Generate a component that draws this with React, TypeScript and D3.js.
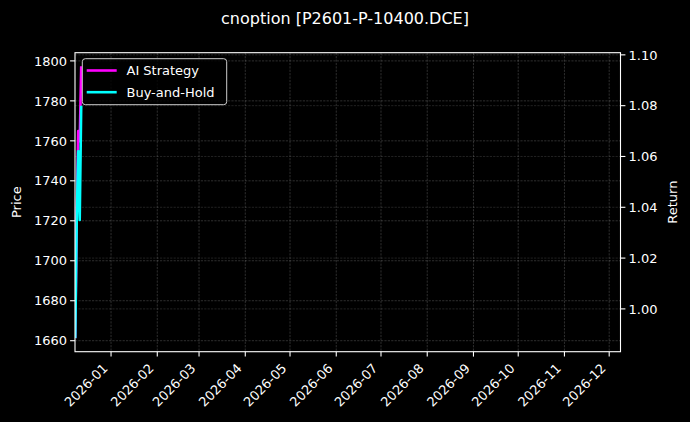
import React from "react";
import * as d3 from "d3";

// ---- data ----
const dates = ["2025-12-08", "2025-12-09", "2025-12-10", "2025-12-11", "2025-12-12"];
const aiStrategy = [0.9885, 1.035, 1.07, 1.066, 1.0955];
const buyAndHold = [0.9885, 1.035, 1.062, 1.035, 1.08];
const priceRange = [1661.3, 1797.3];
const priceTicks = [1660, 1680, 1700, 1720, 1740, 1760, 1780, 1800];
const returnTicks = [1.0, 1.02, 1.04, 1.06, 1.08, 1.1];
const xStart = "2025-12-07T20:00";
const xEnd = "2026-12-08T14:00";
const seriesNames = ["AI Strategy", "Buy-and-Hold"];
const seriesColors = ["#ff00ff", "#00ffff"];

const W = 690;
const H = 422;
const M = { left: 75, right: 620.5, top: 52.7, bottom: 351.7 };

export default function App() {
  const parse = d3.utcParse("%Y-%m-%d");
  const parseT = d3.utcParse("%Y-%m-%dT%H:%M");
  const xs = dates.map((d) => parse(d) as Date);

  const x = d3
    .scaleUtc()
    .domain([parseT(xStart) as Date, parseT(xEnd) as Date])
    .range([M.left, M.right]);

  const pad = (lo: number, hi: number) => {
    const r = hi - lo;
    return [lo - 0.05 * r, hi + 0.05 * r];
  };
  const yL = d3.scaleLinear().domain(pad(priceRange[0], priceRange[1])).range([M.bottom, M.top]);
  const allRet = [...aiStrategy, ...buyAndHold];
  const yR = d3
    .scaleLinear()
    .domain(pad(d3.min(allRet) as number, d3.max(allRet) as number))
    .range([M.bottom, M.top]);

  const monthTicks = d3.utcMonth.range(new Date(Date.UTC(2026, 0, 1)), new Date(Date.UTC(2026, 11, 2)));
  const fmt = d3.utcFormat("%Y-%m");

  const line = d3
    .line<number>()
    .x((_, i) => x(xs[i]))
    .y((v) => yR(v));

  const series = [aiStrategy, buyAndHold];
  const font = "DejaVu Sans, sans-serif";

  return (
    <svg
      width={W}
      height={H}
      style={{ position: "fixed", left: 0, top: 0, display: "block", background: "#000" }}
      fontFamily={font}
    >
      <rect x={0} y={0} width={W} height={H} fill="#000" />
      <defs>
        <clipPath id="plot">
          <rect x={M.left} y={M.top} width={M.right - M.left} height={M.bottom - M.top} />
        </clipPath>
      </defs>
      {/* grid */}
      <g stroke="#ffffff" strokeOpacity={0.3} strokeWidth={0.6} strokeDasharray="2.2,1.2">
        {monthTicks.map((t, i) => (
          <line key={"gx" + i} x1={x(t)} x2={x(t)} y1={M.top} y2={M.bottom} />
        ))}
        {priceTicks.map((t, i) => (
          <line key={"gl" + i} x1={M.left} x2={M.right} y1={yL(t)} y2={yL(t)} />
        ))}
      </g>
      <g stroke="#ffffff" strokeOpacity={0.22} strokeWidth={0.6} strokeDasharray="2.2,1.2">
        {returnTicks.map((t, i) => (
          <line key={"gr" + i} x1={M.left} x2={M.right} y1={yR(t)} y2={yR(t)} />
        ))}
      </g>
      {/* lines */}
      <g clipPath="url(#plot)" fill="none">
        {series.map((s, i) => (
          <path key={"s" + i} d={line(s) || ""} stroke={seriesColors[i]} strokeWidth={2.6} strokeLinejoin="round" strokeLinecap="butt" />
        ))}
      </g>
      {/* spines */}
      <rect x={M.left} y={M.top} width={M.right - M.left} height={M.bottom - M.top} fill="none" stroke="#fff" strokeWidth={1.1} />
      {/* left axis */}
      <g fill="#fff" fontSize={13}>
        {priceTicks.map((t, i) => (
          <g key={"lt" + i}>
            <line x1={M.left - 4.9} x2={M.left} y1={yL(t)} y2={yL(t)} stroke="#fff" strokeWidth={1.1} />
            <text x={M.left - 8} y={yL(t)} dy="0.36em" textAnchor="end">
              {t}
            </text>
          </g>
        ))}
        {returnTicks.map((t, i) => (
          <g key={"rt" + i}>
            <line x1={M.right} x2={M.right + 4.9} y1={yR(t)} y2={yR(t)} stroke="#fff" strokeWidth={1.1} />
            <text x={M.right + 8} y={yR(t)} dy="0.36em" textAnchor="start">
              {t.toFixed(2)}
            </text>
          </g>
        ))}
        {monthTicks.map((t, i) => (
          <g key={"xt" + i}>
            <line x1={x(t)} x2={x(t)} y1={M.bottom} y2={M.bottom + 4.9} stroke="#fff" strokeWidth={1.1} />
            <text
              transform={`translate(${x(t) - 9},${M.bottom + 11}) rotate(-45)`}
              textAnchor="end"
              dy="0.7em"
            >
              {fmt(t)}
            </text>
          </g>
        ))}
        <text transform={`translate(21,${(M.top + M.bottom) / 2}) rotate(-90)`} textAnchor="middle">
          Price
        </text>
        <text transform={`translate(677,${(M.top + M.bottom) / 2}) rotate(-90)`} textAnchor="middle">
          Return
        </text>
        <text x={345} y={24} textAnchor="middle" fontSize={16}>
          cnoption [P2601-P-10400.DCE]
        </text>
      </g>
      {/* legend */}
      <g>
        <rect x={82.3} y={58.7} width={144.4} height={46} rx={3} fill="#000" fillOpacity={0.8} stroke="#cccccc" strokeWidth={1} />
        {seriesNames.map((n, i) => (
          <g key={"lg" + i}>
            <line x1={86.7} x2={116.7} y1={70.5 + i * 21.7} y2={70.5 + i * 21.7} stroke={seriesColors[i]} strokeWidth={2.6} />
            <text x={126.5} y={70.5 + i * 21.7} dy="0.36em" fill="#fff" fontSize={13}>
              {n}
            </text>
          </g>
        ))}
      </g>
    </svg>
  );
}
